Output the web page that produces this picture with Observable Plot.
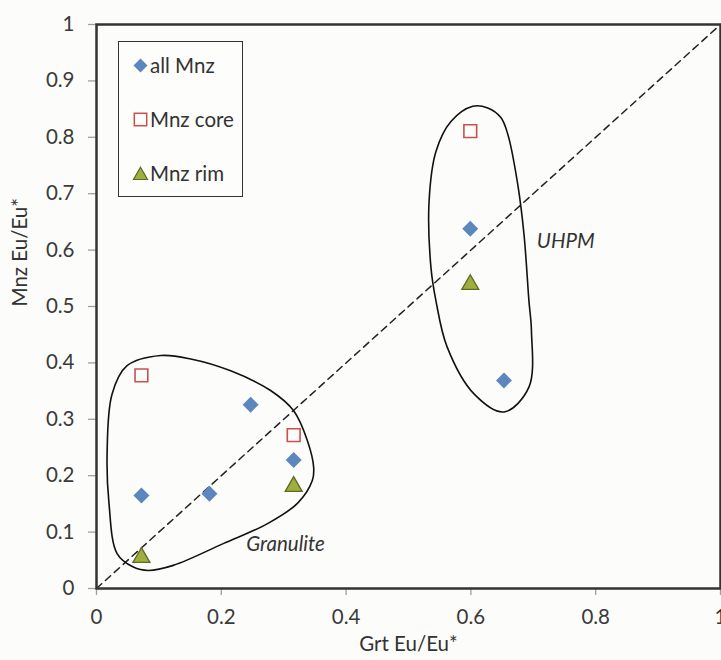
<!DOCTYPE html>
<html>
<head>
<meta charset="utf-8">
<script src="https://cdn.jsdelivr.net/npm/d3@7"></script>
<script src="https://cdn.jsdelivr.net/npm/@observablehq/plot@0.6"></script>
<style>
  html, body { margin: 0; padding: 0; background: #fcfcfa; }
  #wrap { position: relative; width: 721px; height: 660px; font-family: Lato, "Open Sans", sans-serif; overflow: hidden; }
  #wrap svg { display: block; background: #fcfcfa; overflow: visible; }
  g[aria-label="y-axis tick"] path, g[aria-label="x-axis tick"] path { stroke: #a0a0a0; stroke-width: 1.3; }
  #legend { position: absolute; left: 118px; top: 41px; width: 125px; height: 156px; box-sizing: border-box;
            border: 1.5px solid #333; background: #fdfdfb; }
  .li { position: absolute; left: 0; height: 22px; display: flex; align-items: center; font-size: 20.5px; color: #333; white-space: nowrap; }
  .li svg { background: transparent; margin-left: 14px; margin-right: 2px; }
</style>
</head>
<body>
<div id="wrap"></div>
<script>
// ---- data ----
const xTicks = [0, 0.2, 0.4, 0.6, 0.8, 1];
const yTicks = [0, 0.1, 0.2, 0.3, 0.4, 0.5, 0.6, 0.7, 0.8, 0.9, 1];
const xLabel = "Grt Eu/Eu*";
const yLabel = "Mnz Eu/Eu*";
const seriesNames = ["all Mnz", "Mnz core", "Mnz rim"];

const allMnzX = [0.072, 0.181, 0.247, 0.316, 0.599, 0.653];
const allMnzY = [0.165, 0.168, 0.326, 0.228, 0.638, 0.369];
const coreX = [0.072, 0.316, 0.599];
const coreY = [0.378, 0.272, 0.811];
const rimX = [0.072, 0.316, 0.599];
const rimY = [0.055, 0.181, 0.539];

const oneToOneX = [0, 1];
const oneToOneY = [0, 1];

const granuliteX = [0.103, 0.151, 0.215, 0.279, 0.316, 0.338, 0.348, 0.346, 0.322, 0.274, 0.204, 0.123, 0.083, 0.059, 0.033, 0.020, 0.017, 0.025, 0.049];
const granuliteY = [0.413, 0.407, 0.386, 0.351, 0.315, 0.262, 0.215, 0.192, 0.151, 0.115, 0.080, 0.041, 0.032, 0.038, 0.062, 0.151, 0.239, 0.345, 0.395];
const uhpmX = [0.603, 0.627, 0.648, 0.659, 0.675, 0.685, 0.693, 0.697, 0.693, 0.653, 0.605, 0.562, 0.544, 0.536, 0.533, 0.544, 0.568];
const uhpmY = [0.855, 0.852, 0.835, 0.806, 0.717, 0.629, 0.510, 0.457, 0.357, 0.313, 0.345, 0.428, 0.510, 0.569, 0.687, 0.775, 0.828];

const regionNames = ["UHPM", "Granulite"];
const regionLabelX = [0.752, 0.303];
const regionLabelY = [0.616, 0.078];

// ---- tables ----
const zip = (xs, ys) => xs.map((x, i) => ({x, y: ys[i]}));
const allMnz = zip(allMnzX, allMnzY);
const core = zip(coreX, coreY);
const rim = zip(rimX, rimY);
const diag = zip(oneToOneX, oneToOneY);
const granulite = zip(granuliteX, granuliteY);
const uhpm = zip(uhpmX, uhpmY);
const regionLabels = regionNames.map((n, i) => ({n, x: regionLabelX[i], y: regionLabelY[i]}));

const BLUE = "#5b86be", RED = "#c9504d", OLIVE = "#9fae3e", OLIVE_S = "#5d6b1f";
const fontFam = "Lato, 'Open Sans', sans-serif";
const FS = 20.5;
const fmt = d => String(+d.toFixed(1));

const chart = Plot.plot({
  width: 721, height: 660,
  marginLeft: 96, marginRight: 1, marginTop: 24, marginBottom: 72,
  style: {fontFamily: fontFam, fontSize: FS + "px", color: "#3a3a3a", background: "#fcfcfa"},
  x: {domain: [0, 1], ticks: xTicks, tickFormat: fmt, tickSize: 7, tickPadding: 14, label: null},
  y: {domain: [0, 1], ticks: yTicks, tickFormat: fmt, tickSize: 8, tickPadding: 14, label: null},
  marks: [
    Plot.line(diag, {x: "x", y: "y", stroke: "#222", strokeWidth: 1.5, strokeDasharray: "7,5"}),
    Plot.line(granulite, {x: "x", y: "y", curve: "catmull-rom-closed", stroke: "#111", strokeWidth: 1.6}),
    Plot.line(uhpm, {x: "x", y: "y", curve: "catmull-rom-closed", stroke: "#111", strokeWidth: 1.6}),
    Plot.dot(allMnz, {x: "x", y: "y", symbol: "diamond2", r: 7.2, fill: BLUE, stroke: "none"}),
    Plot.dot(core, {x: "x", y: "y", symbol: "square", r: 7.2, fill: "#fcfcfa", stroke: RED, strokeWidth: 1.6}),
    Plot.dot(rim, {x: "x", y: "y", symbol: "triangle", r: 6.3, fill: OLIVE, stroke: OLIVE_S, strokeWidth: 1.3}),
    Plot.text(regionLabels, {x: "x", y: "y", text: "n", fontStyle: "italic", fontSize: FS, fill: "#333"}),
    Plot.frame({stroke: "#333", strokeWidth: 2.5}),
    Plot.text([xLabel], {frameAnchor: "bottom", dy: 62, fontSize: FS, fill: "#333"}),
    Plot.text([yLabel], {frameAnchor: "left", dx: -76, rotate: -90, fontSize: FS, fill: "#333"})
  ]
});

const wrap = document.getElementById("wrap");
wrap.appendChild(chart);

// ---- legend (HTML overlay) ----
const legend = document.createElement("div");
legend.id = "legend";
const symbolsSvg = [
  `<svg width="15" height="15" viewBox="-7.5 -7.5 15 15"><path d="M0,-7L7,0L0,7L-7,0Z" fill="${BLUE}"/></svg>`,
  `<svg width="15" height="15" viewBox="-7.5 -7.5 15 15"><rect x="-6.2" y="-6.2" width="12.4" height="12.4" fill="#fdfdfb" stroke="${RED}" stroke-width="1.5"/></svg>`,
  `<svg width="15" height="15" viewBox="-7.5 -7.5 15 15"><path d="M0,-6.3L7,6L-7,6Z" fill="${OLIVE}" stroke="${OLIVE_S}" stroke-width="1.2"/></svg>`
];
const rowTops = [12, 66, 120];
seriesNames.forEach((name, i) => {
  const row = document.createElement("div");
  row.className = "li";
  row.style.top = rowTops[i] + "px";
  row.innerHTML = symbolsSvg[i] + `<span>${name}</span>`;
  legend.appendChild(row);
});
wrap.appendChild(legend);
</script>
</body>
</html>
